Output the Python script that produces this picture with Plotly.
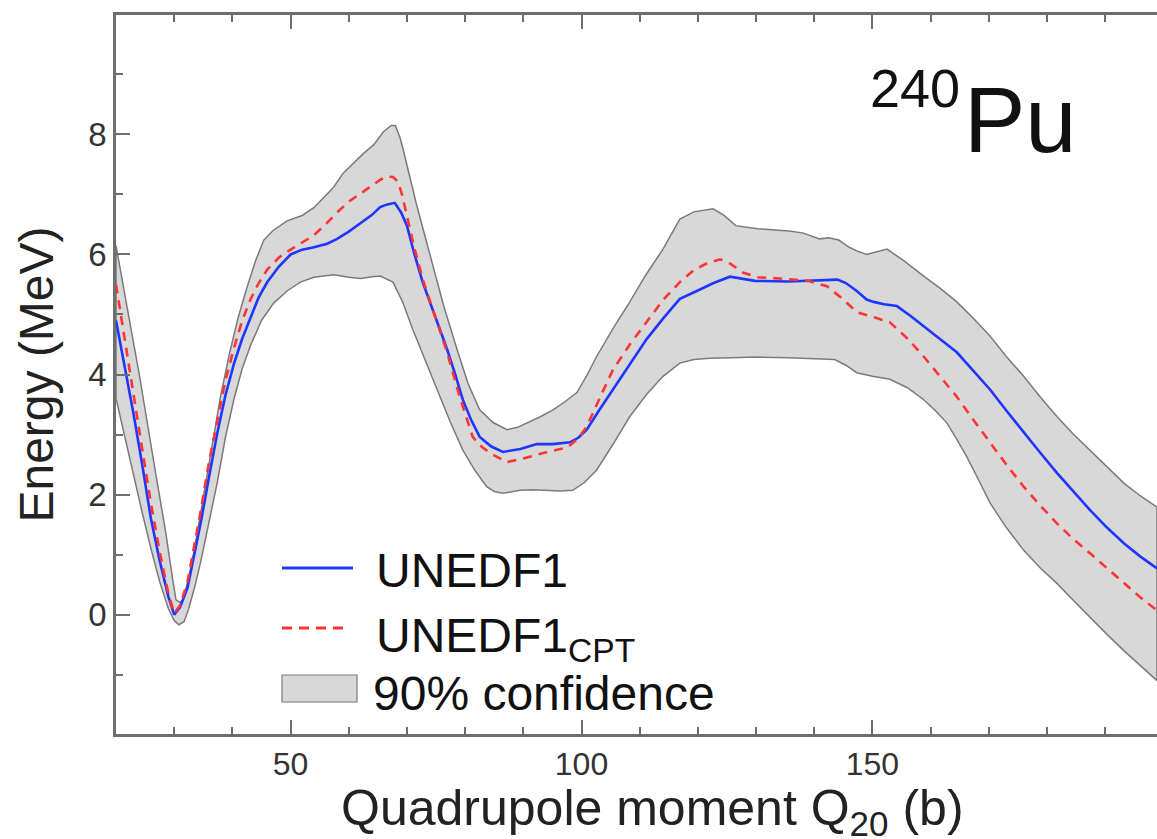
import plotly.graph_objects as go

# ---------------- data ----------------
unedf1_x = [20, 21.5, 23, 24.5, 26, 27.5, 29, 30, 31, 32.3, 33.5, 34.6, 36, 37.4, 38.8, 40.3, 41.7,
            43.1, 44.5, 46, 48, 50, 52, 54, 56.3, 58, 60, 62, 64, 65.4, 66.5, 67.9, 69, 70, 71.3,
            72.7, 74.8, 76.9, 78.3, 79.6, 81, 82.5, 84.5, 86.5, 89.5, 92.3, 95, 98, 99.5, 100.9, 103,
            105.4, 108.3, 111.2, 114, 116.9, 120, 122.6, 125.5, 127.5, 129.8, 135.6, 140, 144, 145.5,
            147.3, 149, 150.2, 152, 154.2, 156.5, 158.8, 161.6, 164.5, 167.3, 170.2, 173, 176, 178.8,
            181.7, 184.5, 187.4, 190.3, 193.2, 196, 198.9]
unedf1_y = [4.90, 4.15, 3.35, 2.50, 1.60, 0.90, 0.30, 0.0, 0.12, 0.45, 1.0, 1.55, 2.30, 3.02, 3.65,
            4.19, 4.60, 4.95, 5.28, 5.54, 5.80, 6.0, 6.08, 6.12, 6.18, 6.26, 6.38, 6.52, 6.66, 6.79,
            6.83, 6.86, 6.70, 6.48, 6.00, 5.54, 4.98, 4.42, 4.00, 3.58, 3.25, 2.96, 2.80, 2.71, 2.76,
            2.84, 2.84, 2.87, 2.95, 3.08, 3.40, 3.75, 4.18, 4.59, 4.93, 5.26, 5.40, 5.52, 5.63, 5.60,
            5.56, 5.55, 5.57, 5.58, 5.52, 5.39, 5.25, 5.21, 5.17, 5.14, 4.98, 4.80, 4.59, 4.37, 4.07,
            3.75, 3.40, 3.03, 2.70, 2.36, 2.05, 1.74, 1.45, 1.19, 0.97, 0.77]

cpt_x = [20, 21.5, 23, 24.5, 26, 27.5, 29, 30, 31, 32.3, 33.5, 34.6, 36, 37.4, 38.8, 40.3, 41.7,
         43.1, 44.5, 46, 48, 50, 52, 54, 56, 58, 60, 62, 64, 65.5, 66.6, 67.6, 68.5, 69.2, 70, 71.3,
         72.7, 74.8, 76.9, 79, 81.3, 82.8, 84.3, 87.2, 90, 94.1, 97.5, 99.3, 100.9, 103, 105.4,
         108.3, 111.2, 114, 116.9, 119.3, 121.5, 123.8, 125.5, 127.7, 130.3, 134, 138.9, 142.2,
         145, 147.3, 150.7, 153, 156, 158.8, 161.6, 164.5, 167.3, 170.2, 173, 176, 178.8, 181.7,
         184.5, 187.4, 190.3, 193.2, 196, 198.9]
cpt_y = [5.50, 4.60, 3.65, 2.75, 1.85, 1.05, 0.35, 0.02, 0.15, 0.55, 1.15, 1.75, 2.55, 3.25, 3.90,
         4.45, 4.90, 5.25, 5.52, 5.75, 5.95, 6.08, 6.20, 6.32, 6.50, 6.70, 6.88, 7.02, 7.15, 7.25,
         7.30, 7.29, 7.21, 6.98, 6.64, 6.10, 5.59, 4.98, 4.37, 3.65, 2.96, 2.80, 2.69, 2.54, 2.60,
         2.71, 2.78, 2.92, 3.13, 3.58, 4.08, 4.50, 4.87, 5.24, 5.54, 5.74, 5.85, 5.92, 5.85, 5.70,
         5.62, 5.60, 5.56, 5.47, 5.25, 5.04, 4.94, 4.87, 4.60, 4.30, 3.97, 3.63, 3.25, 2.86, 2.50,
         2.13, 1.82, 1.52, 1.26, 1.02, 0.77, 0.52, 0.29, 0.07]

band_hi_x = [20, 21, 22.5, 24, 25.5, 27, 28.5, 29.8, 30.3, 31, 31.5, 32.5, 33.5, 35, 36.5, 38, 39.5,
             41, 42.5, 44, 45.4, 47, 49.4, 52, 54, 56, 57.4, 59, 60.9, 62.5, 64.3, 66, 67.3, 68,
             68.8, 69.3, 71.6, 74, 76.3, 78.6, 80.5, 82.5, 84.8, 87.2, 89, 90.6, 93, 95.1, 97.2, 99.2,
             100.9, 102.6, 105.5, 108.3, 111, 114, 116.9, 119.3, 121, 122.6, 124.5, 126.5, 130.3,
             135.6, 138, 140.9, 142.5, 144.2, 146, 147.3, 149, 150.8, 152.5, 155.6, 158.8, 161.6,
             164.5, 167.3, 170.2, 173, 176, 178.8, 181.7, 184.5, 187.4, 190.3, 193.2, 196, 198.9]
band_hi_y = [6.15, 5.60, 4.80, 4.00, 3.15, 2.25, 1.40, 0.55, 0.25, 0.20, 0.25, 0.60, 1.10, 1.90,
             2.80, 3.65, 4.35, 4.95, 5.45, 5.90, 6.24, 6.40, 6.56, 6.65, 6.78, 6.98, 7.12, 7.35, 7.53,
             7.68, 7.83, 8.05, 8.15, 8.15, 7.95, 7.77, 6.85, 5.98, 5.15, 4.42, 3.85, 3.41, 3.20, 3.08,
             3.12, 3.20, 3.30, 3.41, 3.55, 3.70, 3.98, 4.30, 4.78, 5.21, 5.65, 6.09, 6.59, 6.71, 6.74,
             6.76, 6.65, 6.48, 6.43, 6.39, 6.36, 6.26, 6.28, 6.24, 6.12, 6.06, 6.00, 6.05, 6.09, 5.88,
             5.64, 5.44, 5.21, 4.94, 4.64, 4.30, 3.97, 3.63, 3.30, 3.01, 2.74, 2.46, 2.19, 1.98, 1.79]

band_lo_x = [20, 21.5, 23, 24.5, 26, 27.5, 29, 30, 30.8, 31.7, 32.5, 33.5, 34.6, 36, 37.4, 38.8,
             40.3, 41.7, 43.1, 45, 47.1, 49.5, 51.7, 54, 57.4, 60, 62, 64, 65.4, 67.6, 69.3, 71,
             73.1, 75.2, 77.4, 79.6, 81.7, 83.7, 85, 86.5, 88, 89.4, 91.7, 94.1, 96.3, 98.5, 100.5,
             102.6, 105.5, 108.3, 111.2, 114, 116.9, 119.3, 122, 125.8, 130, 135.6, 140, 143.5,
             145.5, 147.3, 150, 153, 156, 158.8, 160.8, 162.8, 164.5, 166.2, 168.2, 170.2, 173, 176,
             178.8, 181.7, 184.5, 187.4, 190.3, 193.2, 196, 198.9]
band_lo_y = [3.60, 2.95, 2.30, 1.70, 1.10, 0.55, 0.10, -0.10, -0.17, -0.12, 0.10, 0.45, 0.90, 1.55,
             2.20, 2.95, 3.60, 4.10, 4.48, 4.90, 5.19, 5.40, 5.54, 5.62, 5.66, 5.62, 5.60, 5.63, 5.64,
             5.54, 5.20, 4.75, 4.25, 3.75, 3.22, 2.74, 2.40, 2.13, 2.05, 2.02, 2.05, 2.07, 2.08, 2.07,
             2.06, 2.07, 2.20, 2.41, 2.85, 3.30, 3.67, 3.97, 4.19, 4.25, 4.27, 4.28, 4.29, 4.28, 4.27,
             4.25, 4.15, 4.03, 3.97, 3.92, 3.78, 3.58, 3.40, 3.19, 2.92, 2.63, 2.25, 1.86, 1.45, 1.07,
             0.78, 0.52, 0.24, -0.05, -0.33, -0.60, -0.85, -1.10]

x_range = [20, 198.9]
y_range = [-1.99, 9.99]

# ---------------- styles ----------------
FONT = "Liberation Sans, Arial, Helvetica, sans-serif"
AXIS_COL = "#6e6e6e"
BLUE = "#1f36ff"
RED = "#ff3535"
BAND_FILL = "#d8d8d8"
BAND_LINE = "#7a7a7a"

fig = go.Figure()

# confidence band polygon
poly_x = band_lo_x + band_hi_x[::-1]
poly_y = band_lo_y + band_hi_y[::-1]
fig.add_trace(go.Scatter(x=poly_x + [poly_x[0]], y=poly_y + [poly_y[0]], mode="lines",
                         fill="toself", fillcolor=BAND_FILL,
                         line=dict(color=BAND_LINE, width=1.5), name="90% confidence",
                         showlegend=False, hoverinfo="skip"))
fig.add_trace(go.Scatter(x=unedf1_x, y=unedf1_y, mode="lines", name="UNEDF1",
                         line=dict(color=BLUE, width=2.6), showlegend=False))
fig.add_trace(go.Scatter(x=cpt_x, y=cpt_y, mode="lines", name="UNEDF1_CPT",
                         line=dict(color=RED, width=2.6, dash="9px,7px"), showlegend=False))

# plot area in pixels (for manual legend placement)
L, R, T, B = 116, 1157, 15, 734
def px(xp):
    return (xp - L) / (R - L)
def py(yp):
    return (B - yp) / (B - T)

shapes = [
    dict(type="line", xref="paper", yref="paper", x0=px(282), x1=px(353), y0=py(568), y1=py(568),
         line=dict(color=BLUE, width=3)),
    dict(type="line", xref="paper", yref="paper", x0=px(282), x1=px(350), y0=py(628), y1=py(628),
         line=dict(color=RED, width=3, dash="10px,7px")),
    dict(type="rect", xref="paper", yref="paper", x0=px(282), x1=px(357), y0=py(702), y1=py(675),
         fillcolor=BAND_FILL, line=dict(color=BAND_LINE, width=1.2)),
]

LEG = 48
annotations = [
    dict(text="UNEDF1", xref="paper", yref="paper", x=px(374), y=py(570), xanchor="left",
         yanchor="middle", showarrow=False, font=dict(family=FONT, size=LEG, color="#111")),
    dict(text="UNEDF1<sub>CPT</sub>", xref="paper", yref="paper", x=px(374), y=py(639),
         xanchor="left", yanchor="middle", showarrow=False,
         font=dict(family=FONT, size=LEG, color="#111")),
    dict(text="90% confidence", xref="paper", yref="paper", x=px(371), y=py(693), xanchor="left",
         yanchor="middle", showarrow=False, font=dict(family=FONT, size=LEG, color="#111")),
    dict(text="240", xref="paper", yref="paper", x=px(868), y=py(88), xanchor="left",
         yanchor="middle", showarrow=False, font=dict(family=FONT, size=54, color="#111")),
    dict(text="Pu", xref="paper", yref="paper", x=px(962), y=py(120), xanchor="left",
         yanchor="middle", showarrow=False, font=dict(family=FONT, size=92, color="#111")),
    # x-axis title, placed as in the reference
    dict(text="Quadrupole moment Q<sub>20</sub> (b)", xref="paper", yref="paper", x=px(652),
         y=py(778), xanchor="center", yanchor="top", showarrow=False,
         font=dict(family=FONT, size=50, color="#222")),
]

fig.update_layout(
    width=1157, height=839,
    margin=dict(l=L, r=1157 - R, t=T, b=839 - B),
    paper_bgcolor="white", plot_bgcolor="white",
    font=dict(family=FONT),
    showlegend=False,
    shapes=shapes,
    annotations=annotations,
    xaxis=dict(range=x_range, tick0=0, dtick=50, ticks="inside", ticklen=14, tickwidth=2,
               tickcolor=AXIS_COL, showline=True, linecolor=AXIS_COL, linewidth=2.5,
               mirror="ticks", showgrid=False, zeroline=False,
               minor=dict(tick0=0, dtick=10, ticks="inside", ticklen=7, tickwidth=1.5,
                          tickcolor=AXIS_COL),
               tickfont=dict(family=FONT, size=32, color="#333")),
    yaxis=dict(range=y_range, tick0=0, dtick=2, ticks="inside", ticklen=14, tickwidth=2,
               tickcolor=AXIS_COL, showline=True, linecolor=AXIS_COL, linewidth=2.5,
               mirror=False, showgrid=False, zeroline=False,
               minor=dict(tick0=0, dtick=1, ticks="inside", ticklen=7, tickwidth=1.5,
                          tickcolor=AXIS_COL),
               tickfont=dict(family=FONT, size=33, color="#333"),
               title=dict(text="Energy (MeV)", font=dict(family=FONT, size=48, color="#222"),
                          standoff=20)),
    yaxis2=dict(range=y_range, overlaying="y", side="right", anchor="x", tick0=0, dtick=2,
                ticks="inside", ticklen=14, tickwidth=2, tickcolor=AXIS_COL, showline=False,
                showgrid=False, zeroline=False, showticklabels=False,
                minor=dict(tick0=0, dtick=1, ticks="inside", ticklen=7, tickwidth=1.5,
                           tickcolor=AXIS_COL)),
)

fig.write_html("out.html")
